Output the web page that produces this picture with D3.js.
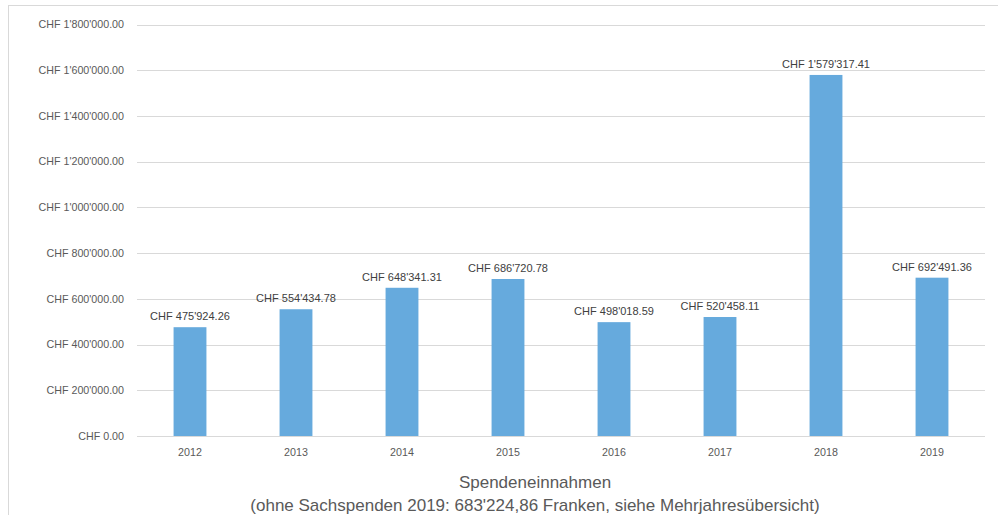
<!DOCTYPE html>
<html>
<head>
<meta charset="utf-8">
<script src="https://cdn.jsdelivr.net/npm/d3@7"></script>
<style>
  body { margin: 0; background: #fff; }
  text { font-family: "Liberation Sans", Arial, sans-serif; fill: #595959; }
</style>
</head>
<body>
<script>
var width = 998, height = 515

// data
var years = ["2012", "2013", "2014", "2015", "2016", "2017", "2018", "2019"]
var amounts = [475924.26, 554434.78, 648341.31, 686720.78, 498018.59, 520458.11, 1579317.41, 692491.36]
var yTicks = [0, 200000, 400000, 600000, 800000, 1000000, 1200000, 1400000, 1600000, 1800000]
var titleLines = ["Spendeneinnahmen", "(ohne Sachspenden 2019: 683'224,86 Franken, siehe Mehrjahresübersicht)"]

var chf = d3.formatLocale({ decimal: ".", thousands: "'", grouping: [3], currency: ["CHF ", ""] }).format("$,.2f")

var svg = d3.select("body").append("svg")
  .attr("width", width)
  .attr("height", height)

// chart frame (cut off at right and bottom)
svg.append("rect")
  .attr("x", 8.5).attr("y", 5.5)
  .attr("width", 1200).attr("height", 800)
  .attr("fill", "none")
  .attr("stroke", "#d9d9d9")

var x = d3.scaleBand()
  .domain(years)
  .range([137, 985])
  .paddingInner(0.69)
  .paddingOuter(0.345)

var y = d3.scaleLinear()
  .domain([0, 1800000])
  .range([436, 24.5])

//gridlines
svg.append("g")
  .selectAll("line")
  .data(yTicks)
  .enter().append("line")
  .attr("x1", 137).attr("x2", 985)
  .attr("y1", function(d) { return Math.round(y(d)) + 0.5 })
  .attr("y2", function(d) { return Math.round(y(d)) + 0.5 })
  .attr("stroke", "#d9d9d9")
  .attr("stroke-width", 1)

//y labels
svg.append("g")
  .selectAll("text")
  .data(yTicks)
  .enter().append("text")
  .attr("x", 124)
  .attr("y", function(d) { return y(d) })
  .attr("dy", "0.35em")
  .attr("text-anchor", "end")
  .style("font-size", "10.7px")
  .text(function(d) { return chf(d) })

//bars
svg.append("g")
  .selectAll("rect")
  .data(amounts)
  .enter().append("rect")
  .attr("x", function(d, i) { return x(years[i]) })
  .attr("width", x.bandwidth())
  .attr("y", function(d) { return y(d) })
  .attr("height", function(d) { return y(0) - y(d) })
  .attr("fill", "#66aadd")

//value labels
svg.append("g")
  .selectAll("text")
  .data(amounts)
  .enter().append("text")
  .attr("x", function(d, i) { return x(years[i]) + x.bandwidth() / 2 })
  .attr("y", function(d) { return y(d) - 7 })
  .attr("text-anchor", "middle")
  .style("font-size", "11px")
  .style("fill", "#404040")
  .text(function(d) { return chf(d) })

//x labels
svg.append("g")
  .selectAll("text")
  .data(years)
  .enter().append("text")
  .attr("x", function(d) { return x(d) + x.bandwidth() / 2 })
  .attr("y", 452)
  .attr("dy", "0.35em")
  .attr("text-anchor", "middle")
  .style("font-size", "10.7px")
  .text(function(d) { return d })

//title below
svg.append("g")
  .selectAll("text")
  .data(titleLines)
  .enter().append("text")
  .attr("x", 535)
  .attr("y", function(d, i) { return 482 + i * 23 })
  .attr("dy", "0.35em")
  .attr("text-anchor", "middle")
  .style("font-size", "17px")
  .text(function(d) { return d })
</script>
</body>
</html>
